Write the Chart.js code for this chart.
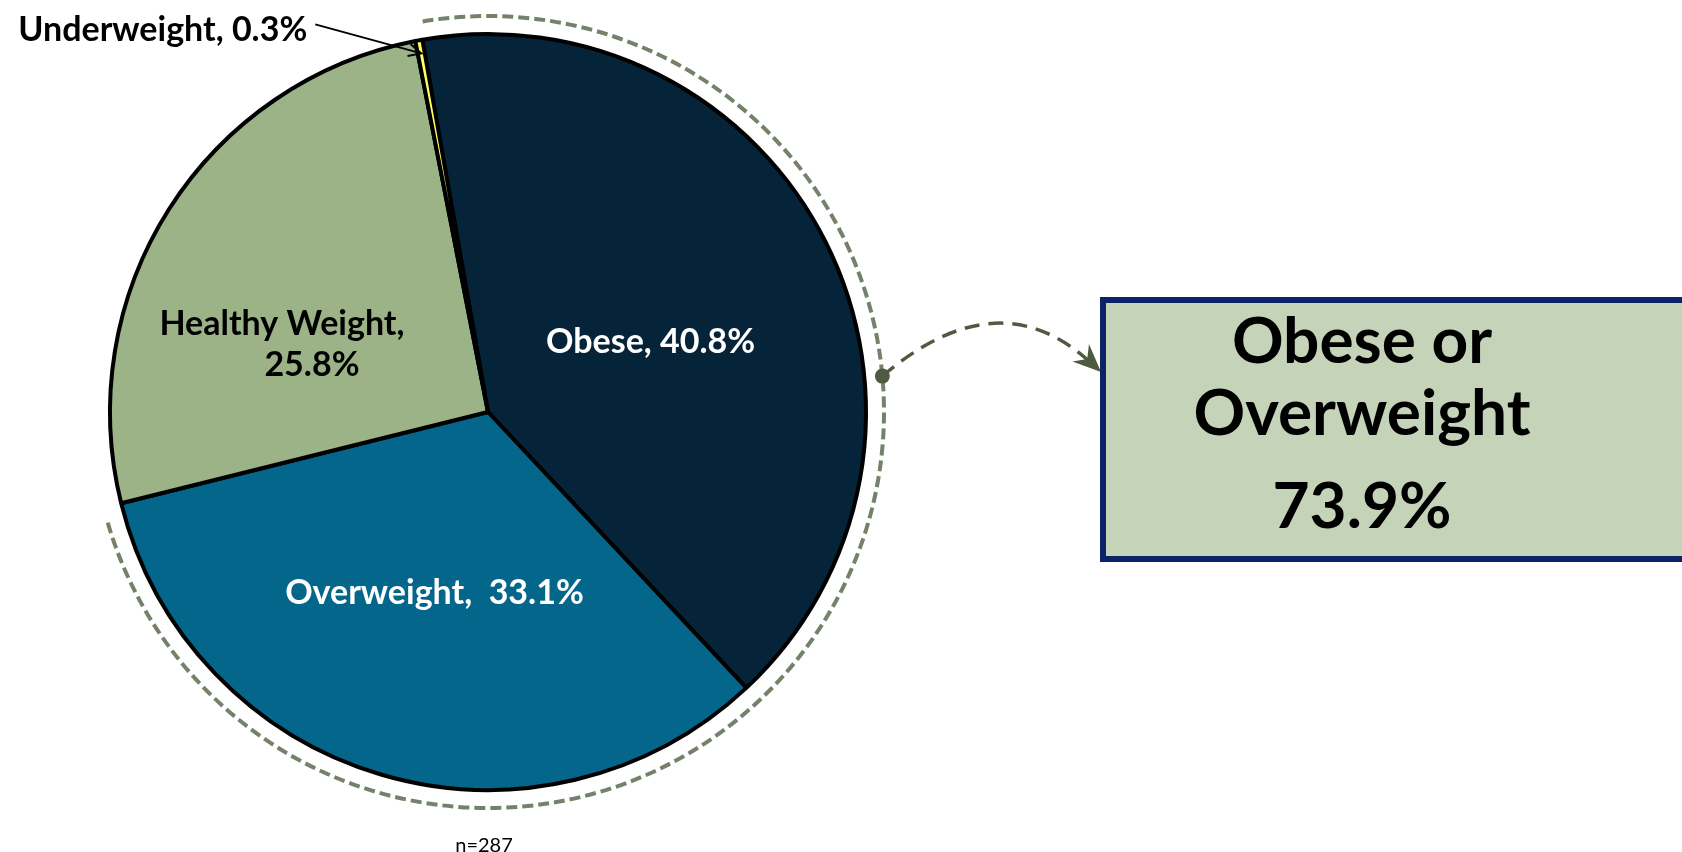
<!DOCTYPE html>
<html lang="en">
<head>
    <meta charset="UTF-8">
    <title>Weight Status</title>
    <script src="https://cdn.jsdelivr.net/npm/chart.js"></script>
    <style>
        body {
            margin: 0;
            background: #ffffff;
            font-family: Lato, Arial, sans-serif;
            overflow: hidden;
        }
        .wrap { position: relative; width: 1682px; height: 852px; overflow: hidden; }
        #pie { position: absolute; left: 0; top: 0; }
        .callout {
            position: absolute;
            left: 1100px;
            top: 297px;
            width: 800px;
            height: 253px;
            border: 6px solid #0b2466;
            background: #c5d3b8;
        }
        .callout .txt {
            width: 512px;
            text-align: center;
            font-weight: bold;
            font-size: 64px;
            line-height: 72px;
            color: #000;
        }
        .callout .pct { margin-top: 21px; }
        .note {
            position: absolute;
            left: 384px;
            top: 832px;
            width: 200px;
            text-align: center;
            font-size: 20px;
            line-height: 24px;
            color: #000;
        }
    </style>
</head>
<body>
<div class="wrap">
    <canvas id="pie" width="1682" height="852"></canvas>
    <div class="callout">
        <div class="txt" id="calloutTitle"></div>
        <div class="txt pct" id="calloutValue"></div>
    </div>
    <div class="note" id="note"></div>
</div>

<script>
    const categories = ['Obese', 'Overweight', 'Healthy Weight', 'Underweight'];
    const percentages = [40.8, 33.1, 25.8, 0.3];
    const sliceColors = ['#062439', '#05668b', '#9bb387', '#ffff66'];
    const combinedTitle = ['Obese or', 'Overweight'];
    const combinedValue = 73.9;
    const sampleSize = 287;

    document.getElementById('calloutTitle').innerHTML = combinedTitle.join('<br>');
    document.getElementById('calloutValue').textContent = combinedValue.toFixed(1) + '%';
    document.getElementById('note').textContent = 'n=' + sampleSize;

    // label placement: fraction of radius + angle nudge (degrees) from slice middle
    const labelPlace = [
        { color: '#fff', frac: 0.468, shift: 3.4, sep: ', ' },
        { color: '#fff', frac: 0.50, shift: 0, sep: ',  ' },
        { color: '#000', frac: 0.593, shift: -9.3, sep: ',\n', second: [30, 41] },
        { color: '#000', outside: true, sep: ', ' }
    ];

    const deg = Math.PI / 180;

    const decorPlugin = {
        id: 'decor',
        afterDatasetsDraw(chart) {
            const ctx = chart.ctx;
            const arcs = chart.getDatasetMeta(0).data;
            const cx = arcs[0].x, cy = arcs[0].y, R = arcs[0].outerRadius;

            // dashed ring round obese + overweight
            const ringR = R + 18;
            ctx.save();
            ctx.strokeStyle = '#74826a';
            ctx.lineWidth = 4;
            ctx.setLineDash([11, 5]);
            ctx.beginPath();
            ctx.arc(cx, cy, ringR, arcs[0].startAngle + 0.5 * deg, arcs[1].endAngle - 2 * deg);
            ctx.stroke();
            ctx.restore();

            // connector from ring to callout box
            const a = -5.2 * deg;
            const p0 = { x: cx + ringR * Math.cos(a), y: cy + ringR * Math.sin(a) };
            const p2 = { x: 1101, y: 372 };
            const c = { x: 1000, y: 276 };
            ctx.save();
            ctx.strokeStyle = '#4f5b41';
            ctx.fillStyle = '#4f5b41';
            ctx.lineWidth = 3.5;
            ctx.setLineDash([15, 9]);
            ctx.beginPath();
            ctx.moveTo(p0.x, p0.y);
            ctx.quadraticCurveTo(c.x, c.y, p2.x - 8, p2.y - 7);
            ctx.stroke();
            ctx.setLineDash([]);
            ctx.beginPath();
            ctx.arc(p0.x, p0.y, 7.5, 0, 2 * Math.PI);
            ctx.fill();
            const ang = Math.atan2(p2.y - c.y, p2.x - c.x);
            ctx.translate(p2.x, p2.y);
            ctx.rotate(ang);
            ctx.beginPath();
            ctx.moveTo(0, 0);
            ctx.lineTo(-28, -12);
            ctx.lineTo(-19, 0);
            ctx.lineTo(-28, 12);
            ctx.closePath();
            ctx.fill();
            ctx.restore();

            // slice labels
            ctx.save();
            ctx.font = 'bold 34px Lato, Arial, sans-serif';
            ctx.textAlign = 'center';
            ctx.textBaseline = 'middle';
            arcs.forEach((arc, i) => {
                const p = labelPlace[i];
                const text = categories[i] + p.sep + percentages[i].toFixed(1) + '%';
                const mid = (arc.startAngle + arc.endAngle) / 2;
                ctx.fillStyle = p.color;
                if (p.outside) {
                    const tip = { x: cx + 0.965 * R * Math.cos(mid), y: cy + 0.965 * R * Math.sin(mid) };
                    const tail = { x: tip.x - 106, y: tip.y - 29 };
                    ctx.strokeStyle = '#000';
                    ctx.lineWidth = 2;
                    ctx.beginPath();
                    ctx.moveTo(tail.x, tail.y);
                    ctx.lineTo(tip.x, tip.y);
                    const t = Math.atan2(tip.y - tail.y, tip.x - tail.x);
                    ctx.moveTo(tip.x - 14 * Math.cos(t - 0.45), tip.y - 14 * Math.sin(t - 0.45));
                    ctx.lineTo(tip.x, tip.y);
                    ctx.lineTo(tip.x - 14 * Math.cos(t + 0.45), tip.y - 14 * Math.sin(t + 0.45));
                    ctx.stroke();
                    ctx.textAlign = 'right';
                    ctx.fillText(text, tail.x - 8, tail.y + 6);
                    ctx.textAlign = 'center';
                    return;
                }
                const ta = mid + p.shift * deg;
                const x = cx + p.frac * R * Math.cos(ta);
                const y = cy + p.frac * R * Math.sin(ta);
                const lines = text.split('\n');
                ctx.fillText(lines[0], x, y);
                if (lines[1]) ctx.fillText(lines[1], x + p.second[0], y + p.second[1]);
            });
            ctx.restore();
        }
    };

    const pieChart = new Chart(document.getElementById('pie'), {
        type: 'pie',
        data: {
            labels: categories,
            datasets: [{
                data: percentages,
                backgroundColor: sliceColors,
                borderColor: '#000',
                borderWidth: 4
            }]
        },
        options: {
            responsive: false,
            animation: false,
            rotation: -10,
            layout: { padding: { left: 108, right: 814, top: 32, bottom: 60 } },
            plugins: {
                legend: { display: false },
                tooltip: { enabled: false }
            }
        },
        plugins: [decorPlugin]
    });
</script>
</body>
</html>
